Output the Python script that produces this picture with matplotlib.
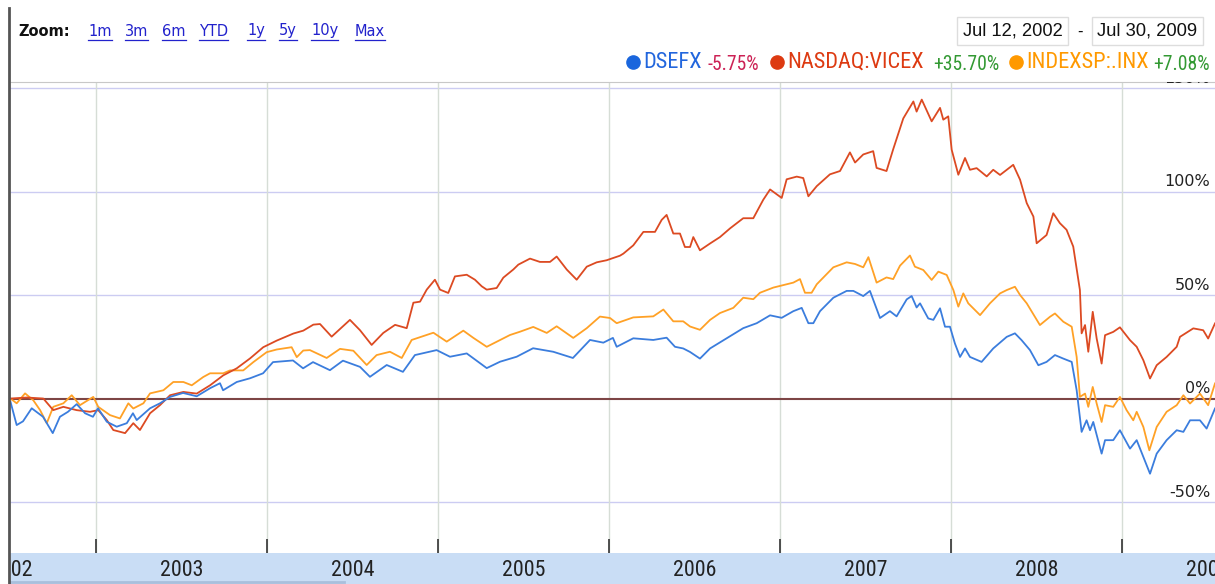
import matplotlib.pyplot as plt
from matplotlib import font_manager
from matplotlib.lines import Line2D
from matplotlib.patches import Rectangle

# DSEFX vs NASDAQ:VICEX vs INDEXSP:.INX, % change since Jul 12, 2002
dsefx_x = [2002.50, 2002.536, 2002.573, 2002.624, 2002.690, 2002.747, 2002.789, 2002.836, 2002.887, 2002.936,
           2002.982, 2003.012, 2003.063, 2003.121, 2003.180, 2003.216, 2003.238, 2003.316, 2003.374, 2003.433,
           2003.509, 2003.589, 2003.667, 2003.725, 2003.743, 2003.823, 2003.901, 2003.977, 2004.035, 2004.152,
           2004.211, 2004.269, 2004.368, 2004.444, 2004.544, 2004.602, 2004.700, 2004.795, 2004.865, 2004.992,
           2005.070, 2005.168, 2005.285, 2005.363, 2005.460, 2005.556, 2005.674, 2005.789, 2005.889, 2005.967,
           2006.023, 2006.045, 2006.142, 2006.259, 2006.337, 2006.386, 2006.434, 2006.474, 2006.532, 2006.591,
           2006.688, 2006.785, 2006.864, 2006.942, 2007.010, 2007.078, 2007.127, 2007.166, 2007.195, 2007.234,
           2007.312, 2007.390, 2007.429, 2007.487, 2007.526, 2007.585, 2007.643, 2007.682, 2007.741, 2007.770,
           2007.799, 2007.819, 2007.867, 2007.897, 2007.936, 2007.965, 2007.994, 2008.023, 2008.053, 2008.082,
           2008.111, 2008.179, 2008.247, 2008.326, 2008.374, 2008.413, 2008.462, 2008.511, 2008.559, 2008.608,
           2008.657, 2008.706, 2008.735, 2008.764, 2008.793, 2008.813, 2008.832, 2008.881, 2008.901, 2008.949,
           2008.988, 2009.047, 2009.086, 2009.125, 2009.164, 2009.203, 2009.261, 2009.320, 2009.359, 2009.398,
           2009.456, 2009.495, 2009.544]
dsefx_y = [-1.6, -12.8, -11, -4.7, -8.8, -16.7, -8.8, -6.4, -2.7, -7.1,
           -8.8, -4.7, -11.2, -13.6, -11.9, -7.1, -10.4, -4.7, -2.3, 0.8,
           2.7, 1.1, 5, 7.4, 4, 8, 9.8, 12.2, 17.6, 18.4,
           14.6, 17.6, 13.7, 18.3, 15.3, 10.5, 16.2, 12.9, 21, 23.4,
           20.2, 21.8, 14.7, 17.8, 20.2, 24.3, 22.6, 19.6, 28.3, 27,
           29.3, 25, 29.1, 28.3, 29.4, 25, 24.2, 22.5, 19.3, 24.2,
           29.1, 34, 36.4, 40.2, 39, 42.2, 43.8, 36.4, 36.4, 42.2,
           48.7, 52, 52, 49.5, 52, 38.9, 42.2, 39.7, 47.9, 49.5,
           44, 46, 38.7, 38, 43.6, 34.7, 34.7, 26.6, 20.1, 24.2,
           20.1, 17.7, 24.2, 29.8, 31.5, 28.2, 23.4, 16.1, 17.7, 21,
           19.3, 17.7, 4, -16.1, -10.5, -15.3, -11.3, -26.6, -20.1, -20.1,
           -15.3, -24.2, -20.1, -28.2, -36.3, -26.6, -20.1, -15.3, -16.1, -10.5,
           -10.5, -14.5, -4.8]

vicex_x = [2002.50, 2002.595, 2002.692, 2002.750, 2002.809, 2002.887, 2002.965, 2003.013, 2003.063, 2003.101,
           2003.170, 2003.218, 2003.257, 2003.316, 2003.374, 2003.433, 2003.511, 2003.589, 2003.667, 2003.744,
           2003.823, 2003.901, 2003.978, 2004.057, 2004.154, 2004.212, 2004.271, 2004.310, 2004.378, 2004.485,
           2004.544, 2004.612, 2004.680, 2004.749, 2004.817, 2004.856, 2004.895, 2004.934, 2004.982, 2005.012,
           2005.060, 2005.099, 2005.168, 2005.216, 2005.256, 2005.285, 2005.343, 2005.382, 2005.440, 2005.470,
           2005.538, 2005.596, 2005.655, 2005.694, 2005.753, 2005.811, 2005.870, 2005.928, 2005.986, 2006.064,
           2006.084, 2006.142, 2006.201, 2006.269, 2006.308, 2006.337, 2006.376, 2006.415, 2006.444, 2006.474,
           2006.493, 2006.532, 2006.591, 2006.649, 2006.708, 2006.785, 2006.844, 2006.902, 2006.942, 2007.010,
           2007.039, 2007.098, 2007.136, 2007.166, 2007.215, 2007.292, 2007.351, 2007.409, 2007.439, 2007.487,
           2007.545, 2007.565, 2007.623, 2007.662, 2007.721, 2007.780, 2007.799, 2007.829, 2007.887, 2007.936,
           2007.955, 2007.984, 2008.004, 2008.043, 2008.082, 2008.111, 2008.150, 2008.209, 2008.247, 2008.287,
           2008.364, 2008.404, 2008.443, 2008.482, 2008.501, 2008.559, 2008.598, 2008.637, 2008.676, 2008.715,
           2008.754, 2008.764, 2008.784, 2008.803, 2008.829, 2008.852, 2008.881, 2008.901, 2008.949, 2008.988,
           2009.047, 2009.086, 2009.125, 2009.164, 2009.203, 2009.261, 2009.320, 2009.339, 2009.417, 2009.475,
           2009.504, 2009.544]
vicex_y = [0, 0.5, 0, -5.6, -4, -5.6, -6.4, -5.6, -10.4, -15.2,
           -16.7, -11.9, -15.2, -7.1, -3.2, 1.6, 3.2, 2.4, 6.4, 11.2,
           14.6, 19.4, 24.8, 28, 31.4, 32.8, 35.7, 36, 29.9, 38,
           33, 25.9, 31.7, 35.6, 34, 46.3, 46.8, 52.6, 57.4, 52.6,
           51, 59, 59.8, 57.4, 54.2, 52.6, 53.4, 58.4, 62.3, 64.7,
           67.6, 66, 66, 68.6, 62.3, 57.4, 63.7, 65.8, 66.8, 69,
           70, 74, 80.5, 80.5, 86.3, 88.7, 79.7, 79.7, 73.2, 73.2,
           78, 71.6, 74.9, 78, 82.2, 87.1, 87.1, 96, 101, 96.9,
           105.9, 107.2, 106.5, 97.7, 102.6, 108.3, 109.9, 118.9, 114, 117.9,
           119.5, 111.4, 109.9, 120.4, 135.3, 143.5, 138.6, 144.4, 133.9, 140.4,
           134.7, 136.3, 120.2, 108.1, 116.2, 110.5, 111.3, 107.3, 110.5, 108,
           112.9, 105.7, 94.4, 87.9, 75, 79, 89.5, 84.7, 81.5, 73.4,
           52.4, 31.5, 35.5, 22.6, 41.9, 29, 16.9, 30.6, 32.2, 34.4,
           28.2, 25, 18.5, 9.7, 16.1, 20.1, 25, 29.8, 33.9, 33,
           29, 36.3]

inx_x = [2002.50, 2002.536, 2002.585, 2002.633, 2002.673, 2002.712, 2002.750, 2002.809, 2002.858, 2002.906,
         2002.984, 2003.013, 2003.082, 2003.140, 2003.189, 2003.218, 2003.277, 2003.316, 2003.394, 2003.452,
         2003.511, 2003.560, 2003.627, 2003.667, 2003.744, 2003.784, 2003.861, 2003.920, 2003.998, 2004.057,
         2004.144, 2004.174, 2004.212, 2004.251, 2004.349, 2004.427, 2004.505, 2004.583, 2004.641, 2004.719,
         2004.788, 2004.846, 2004.973, 2005.051, 2005.148, 2005.207, 2005.285, 2005.363, 2005.421, 2005.480,
         2005.557, 2005.636, 2005.694, 2005.791, 2005.870, 2005.947, 2006.006, 2006.045, 2006.142, 2006.259,
         2006.318, 2006.376, 2006.434, 2006.474, 2006.532, 2006.591, 2006.649, 2006.727, 2006.785, 2006.844,
         2006.883, 2006.961, 2007.000, 2007.078, 2007.117, 2007.146, 2007.185, 2007.215, 2007.312, 2007.390,
         2007.439, 2007.487, 2007.517, 2007.565, 2007.623, 2007.662, 2007.702, 2007.760, 2007.789, 2007.838,
         2007.887, 2007.926, 2007.975, 2008.014, 2008.043, 2008.072, 2008.101, 2008.170, 2008.228, 2008.287,
         2008.326, 2008.374, 2008.404, 2008.443, 2008.520, 2008.579, 2008.608, 2008.657, 2008.706, 2008.735,
         2008.754, 2008.784, 2008.803, 2008.829, 2008.852, 2008.881, 2008.901, 2008.949, 2008.988, 2009.027,
         2009.066, 2009.086, 2009.125, 2009.160, 2009.203, 2009.261, 2009.320, 2009.359, 2009.398, 2009.456,
         2009.504, 2009.544]
inx_y = [0, -2.3, 2.5, -0.8, -5.6, -11.9, -4, -2.3, 1.6, -3.2,
         0.8, -4, -8, -9.6, -2.3, -4.8, -2.3, 2.5, 4, 8,
         8, 6.4, 10.4, 12.2, 12.2, 13.6, 13.6, 17.6, 22.4, 23.7,
         24.8, 20, 23.2, 23.4, 19.6, 24, 23.1, 16.2, 21, 22.6,
         19.6, 28.3, 31.8, 27.5, 32.8, 29.3, 25, 28.3, 30.7, 32.3,
         34.6, 31.7, 34.9, 29.3, 34, 39.6, 38.9, 36.4, 39.2, 39.7,
         43, 37.3, 37.3, 34.8, 33.2, 38, 41.3, 43.8, 48.7, 48,
         51.1, 53.6, 54.4, 56, 57.7, 51.1, 51.1, 55.2, 63.4, 65.8,
         65, 63.4, 68.3, 56, 58.5, 57.7, 64.2, 69.1, 63.7, 62.1,
         57.3, 61.3, 59.7, 52.4, 44.4, 50.8, 46, 40.3, 46, 50.8,
         52.4, 54, 50, 46, 35.5, 39.5, 41.1, 37.1, 34.7, 20.1,
         0.8, 2.4, -4, 5.6, -2.4, -11.3, -3.2, -4, 0.8, -5.6,
         -10.5, -6.4, -13.7, -25, -13.7, -6.4, -3.2, 1.6, -2.4, 2.4,
         -3.2, 7.3]

years = [2002, 2003, 2004, 2005, 2006, 2007, 2008, 2009]
pct_ticks = [-50, 0, 50, 100, 150]
names = ['DSEFX', 'NASDAQ:VICEX', 'INDEXSP:.INX']
changes = ['-5.75%', '+35.70%', '+7.08%']

# pick a narrow font if one is installed
installed = {f.name for f in font_manager.fontManager.ttflist}
narrow = next((n for n in ['Liberation Sans Narrow', 'Roboto Condensed', 'PT Sans Narrow', 'Archivo Narrow',
                           'Open Sans Condensed', 'Liberation Sans'] if n in installed), 'DejaVu Sans')

fig = plt.figure(figsize=(12.15, 5.84), dpi=100)
W, H = 1215, 584
r = fig.canvas.get_renderer()


def fit(t, width_px):
    # scale a text so its width matches the reference
    w = t.get_window_extent(r).width
    t.set_fontsize(t.get_fontsize() * width_px / w)
    return t.get_fontsize()


# main plot area
ax = fig.add_axes([10 / W, 31 / H, 1205 / W, 471 / H])
ax.set_xlim(2002.497, 2009.544)
ax.set_ylim(-74.6, 152.9)

for v in pct_ticks:
    if v != 0:
        ax.axhline(v, color='#ccccf2', lw=1, zorder=1)
ax.set_xticks(years[1:])
ax.grid(axis='x', color='#d6ddd6', lw=1)
ax.set_yticks([])
ax.tick_params(axis='x', direction='in', length=10, width=1.2, color='#333333', labelbottom=False)
ax.axhline(0, color='#7d4545', lw=1.5, zorder=2)

ax.plot(dsefx_x, dsefx_y, color='#3b7ddd', lw=1.3, zorder=5)
ax.plot(vicex_x, vicex_y, color='#dc4a22', lw=1.3, zorder=4)
ax.plot(inx_x, inx_y, color='#ffa126', lw=1.3, zorder=3)

for v in pct_ticks:
    ax.text(0.996, v + 1.0, f'{v}%', transform=ax.get_yaxis_transform(), ha='right', va='bottom',
            fontsize=11.5, color='#222222', clip_on=True, zorder=6)

for s in ['right', 'bottom', 'left']:
    ax.spines[s].set_visible(False)
ax.spines['top'].set_color('#c8c8c8')

# year band at the bottom
band = fig.add_axes([9 / W, 0, 1206 / W, 31 / H])
band.set_xlim(2002.497 - 1 / 171, 2009.544)
band.set_ylim(0, 1)
band.set_facecolor('#c9ddf5')
t = band.text(2003.5, 0.45, '2003', fontsize=10, family=narrow)
year_size = fit(t, 43)
t.remove()
for y in years:
    band.text(y + 0.5, 0.45, str(y), ha='center', va='center', fontsize=year_size, family=narrow,
              color='#222222', clip_on=True)
band.plot([2002.49, 2004.45], [0.05, 0.05], color='#a9bfdc', lw=2)
band.set_xticks([])
band.set_yticks([])
for s in band.spines.values():
    s.set_visible(False)

# left border
fig.add_artist(Line2D([9 / W, 9 / W], [0, 1 - 8 / H], color='#555555', lw=2))

# header: zoom links
fig.text(18 / W, 1 - 31 / H, 'Zoom:', fontsize=10.5, fontweight='bold', va='center', color='#111111')
links = ['1m', '3m', '6m', 'YTD', '1y', '5y', '10y', 'Max']
link_x = [88, 125, 162, 199, 247, 279, 311, 355]
for name, lx in zip(links, link_x):
    t = fig.text(lx / W, 1 - 31 / H, name, fontsize=10.5, va='center', color='#2222cc')
    bb = t.get_window_extent(r)
    fig.add_artist(Line2D([bb.x0 / W, bb.x1 / W], [(bb.y0 - 1) / H, (bb.y0 - 1) / H], color='#2222cc', lw=0.9))

# date range boxes
for bx, label in [(957, 'Jul 12, 2002'), (1092, 'Jul 30, 2009')]:
    fig.add_artist(Rectangle((bx / W, 1 - 45 / H), 111 / W, 28 / H, fc='white', ec='#dddddd', lw=1))
    t = fig.text((bx + 55.5) / W, 1 - 31 / H, label, fontsize=10, family='Liberation Sans', ha='center',
                 va='center', color='#111111')
    fit(t, 100)
fig.text(1080 / W, 1 - 31 / H, '-', fontsize=11, ha='center', va='center', color='#111111')

# legend row
name_colors = ['#2266dd', '#dd3a11', '#ff9900']
dot_colors = ['#1a66dd', '#dd3a11', '#ff9900']
change_colors = ['#cc2255', '#339933', '#339933']
dot_x = [633, 777, 1016]
name_x = [643, 787, 1026]
change_x = [708, 933, 1153]

t = fig.text(0, 0, names[1], fontsize=10, family=narrow)
name_size = fit(t, 136)
t.remove()
t = fig.text(0, 0, changes[1], fontsize=10, family=narrow)
change_size = fit(t, 66)
t.remove()

for i in range(3):
    fig.add_artist(Line2D([dot_x[i] / W], [1 - 62 / H], marker='o', ms=9.5, color=dot_colors[i], lw=0))
    fig.text(name_x[i] / W, 1 - 62 / H, names[i], fontsize=name_size, family=narrow, color=name_colors[i],
             va='center')
    fig.text(change_x[i] / W, 1 - 64 / H, changes[i], fontsize=change_size, family=narrow,
             color=change_colors[i], va='center')

plt.savefig('out.png', dpi=100)
